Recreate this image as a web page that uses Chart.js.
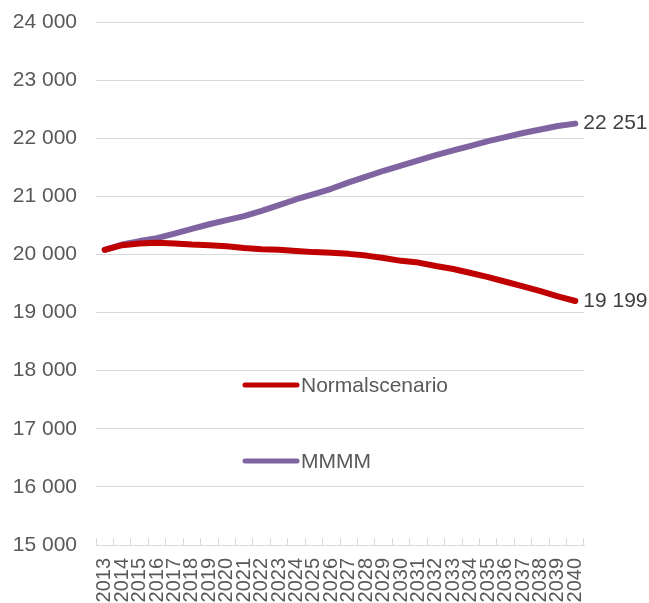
<!DOCTYPE html>
<html>
<head>
<meta charset="utf-8">
<script src="https://cdn.jsdelivr.net/npm/chart.js@4/dist/chart.umd.min.js"></script>
<style>
  html, body { margin: 0; padding: 0; background: #fff; }
  #wrap { width: 649px; height: 603px; position: relative; }
</style>
</head>
<body>
<div id="wrap"><canvas id="c"></canvas></div>
<script>
// years on the x axis
const years = [
  "2013", "2014", "2015", "2016", "2017", "2018", "2019", "2020", "2021", "2022",
  "2023", "2024", "2025", "2026", "2027", "2028", "2029", "2030", "2031", "2032",
  "2033", "2034", "2035", "2036", "2037", "2038", "2039", "2040"
];

// series
const normalscenario = [
  20080, 20160, 20190, 20200, 20190, 20170, 20160, 20140, 20110, 20090,
  20080, 20060, 20040, 20030, 20010, 19980, 19940, 19890, 19860, 19800,
  19750, 19680, 19610, 19530, 19450, 19370, 19280, 19199
];
const mmmm = [
  20080, 20170, 20230, 20280, 20360, 20440, 20520, 20590, 20660, 20750,
  20850, 20950, 21040, 21130, 21240, 21340, 21440, 21530, 21620, 21710,
  21790, 21870, 21950, 22020, 22090, 22150, 22210, 22251
];

const seriesNames = ["Normalscenario", "MMMM"];
const seriesColors = ["#C00000", "#8064A2"];

const yMin = 15000;
const yMax = 24000;
const yStep = 1000;

const FONT = "'Liberation Sans', Arial, sans-serif";

// format with a space as thousands separator
const fmt = (v) => String(Math.round(v)).replace(/\B(?=(\d{3})+(?!\d))/g, " ");

// last value label next to each line + legend placed inside the plot
const extrasPlugin = {
  id: "extras",
  afterDatasetsDraw(chart) {
    const ctx = chart.ctx;
    ctx.save();
    ctx.font = "21px " + FONT;
    ctx.textBaseline = "middle";
    ctx.textAlign = "left";
    ctx.fillStyle = "#404040";
    chart.data.datasets.forEach((ds, i) => {
      const meta = chart.getDatasetMeta(i);
      const last = meta.data[meta.data.length - 1];
      ctx.fillText(fmt(ds.data[ds.data.length - 1]), last.x + 8, last.y);
    });

    // legend entries
    const legendY = [385, 461];
    chart.data.datasets.forEach((ds, i) => {
      ctx.strokeStyle = ds.borderColor;
      ctx.lineWidth = 5;
      ctx.lineCap = "round";
      ctx.beginPath();
      ctx.moveTo(245, legendY[i]);
      ctx.lineTo(297, legendY[i]);
      ctx.stroke();
      ctx.fillStyle = "#595959";
      ctx.fillText(ds.label, 301, legendY[i] + 1);
    });
    ctx.restore();
  }
};

new Chart(document.getElementById("c"), {
  type: "line",
  data: {
    labels: years,
    datasets: [
      {
        label: seriesNames[0],
        data: normalscenario,
        borderColor: seriesColors[0],
        backgroundColor: seriesColors[0],
        borderWidth: 6,
        pointRadius: 0,
        tension: 0,
        borderCapStyle: "round",
        borderJoinStyle: "round",
      },
      {
        label: seriesNames[1],
        data: mmmm,
        borderColor: seriesColors[1],
        backgroundColor: seriesColors[1],
        borderWidth: 6,
        pointRadius: 0,
        tension: 0,
        borderCapStyle: "round",
        borderJoinStyle: "round",
      },
    ],
  },
  options: {
    responsive: true,
    maintainAspectRatio: false,
    animation: false,
    layout: {
      padding: { top: 22, right: 65, left: 0, bottom: 0 },
    },
    scales: {
      x: {
        offset: true,
        grid: {
          offset: true,
          drawOnChartArea: false,
          color: "#d9d9d9",
          tickLength: -7,
        },
        border: { display: true, color: "#d9d9d9", width: 1 },
        ticks: {
          autoSkip: false,
          minRotation: 90,
          maxRotation: 90,
          padding: 20,
          color: "#595959",
          font: { family: FONT, size: 20 },
        },
        afterFit(scale) {
          scale.height = 58;
          scale.paddingTop = 0;
          scale.paddingBottom = 0;
        },
      },
      y: {
        min: yMin,
        max: yMax,
        ticks: {
          stepSize: yStep,
          padding: 19,
          color: "#595959",
          font: { family: FONT, size: 21 },
          callback: (v) => fmt(v),
        },
        grid: {
          color: "#d9d9d9",
          lineWidth: 1,
          drawTicks: false,
        },
        border: { display: false },
        afterFit(scale) {
          scale.width = 96;
          scale.paddingTop = 0;
          scale.paddingBottom = 0;
        },
      },
    },
    plugins: {
      legend: { display: false },
      tooltip: { enabled: false },
    },
  },
  plugins: [extrasPlugin],
});
</script>
</body>
</html>
